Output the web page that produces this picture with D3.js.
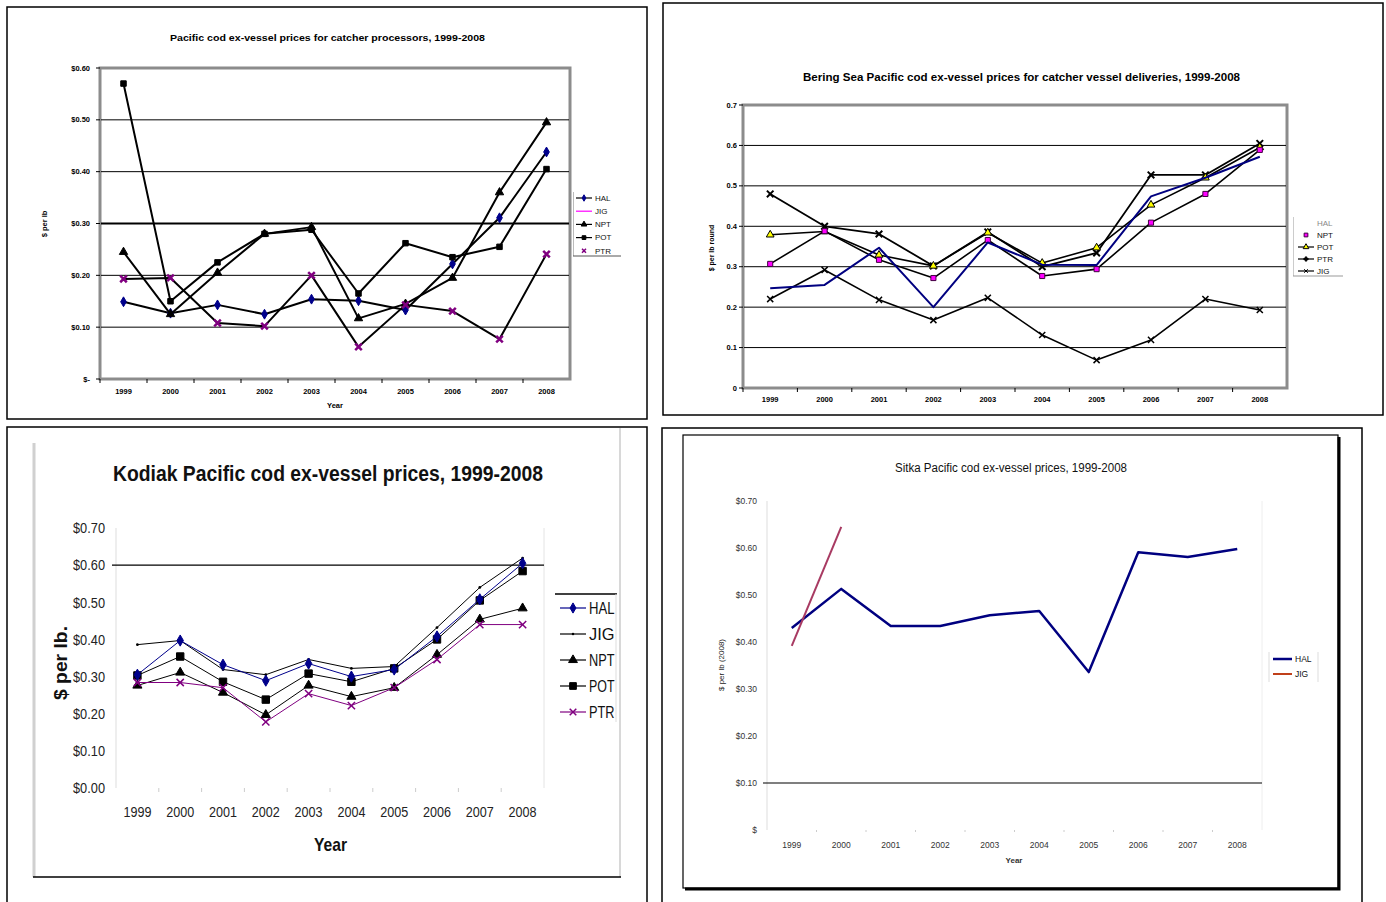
<!DOCTYPE html>
<html>
<head>
<meta charset="utf-8">
<script src="https://cdn.jsdelivr.net/npm/d3@7/dist/d3.min.js"></script>
<style>
body { margin: 0; background: #fff; }
svg { display: block; font-family: "Liberation Sans", Arial, sans-serif; }
</style>
</head>
<body>
<svg id="chart" width="1386" height="902"></svg>
<script>
// ---------------------------------------------------------------- data

var years = ['1999','2000','2001','2002','2003','2004','2005','2006','2007','2008'];

// catcher processors
var cpHAL = [0.149, 0.127, 0.143, 0.125, 0.154, 0.151, 0.133, 0.222, 0.311, 0.438];
var cpJIG = [null, null, null, null, null, null, null, null, null, null];
var cpNPT = [0.245, 0.125, 0.205, 0.280, 0.293, 0.117, 0.145, 0.195, 0.360, 0.495];
var cpPOT = [0.570, 0.150, 0.225, 0.280, 0.288, 0.165, 0.262, 0.235, 0.255, 0.405];
var cpPTR = [0.193, 0.195, 0.108, 0.102, 0.200, 0.062, 0.143, 0.131, 0.077, 0.241];
var cpTicks = ['$-', '$0.10', '$0.20', '$0.30', '$0.40', '$0.50', '$0.60'];

// Bering Sea catcher vessels
var bsHAL = [0.247, 0.255, 0.347, 0.200, 0.360, 0.305, 0.304, 0.474, 0.520, 0.572];
var bsNPT = [0.307, 0.388, 0.317, 0.272, 0.366, 0.277, 0.294, 0.409, 0.480, 0.589];
var bsPOT = [0.379, 0.387, 0.329, 0.302, 0.384, 0.309, 0.347, 0.453, 0.520, 0.595];
var bsPTR = [0.480, 0.400, 0.381, 0.302, 0.386, 0.300, 0.334, 0.527, 0.527, 0.605];
var bsJIG = [0.220, 0.292, 0.218, 0.168, 0.223, 0.131, 0.069, 0.119, 0.220, 0.193];
var bsTicks = ['0', '0.1', '0.2', '0.3', '0.4', '0.5', '0.6', '0.7'];

// Kodiak
var kdHAL = [0.305, 0.397, 0.332, 0.289, 0.335, 0.300, 0.319, 0.408, 0.508, 0.605];
var kdJIG = [0.386, 0.397, 0.319, 0.305, 0.346, 0.322, 0.327, 0.432, 0.540, 0.619];
var kdNPT = [0.276, 0.311, 0.257, 0.197, 0.276, 0.246, 0.270, 0.359, 0.454, 0.484];
var kdPOT = [0.303, 0.354, 0.286, 0.238, 0.308, 0.286, 0.322, 0.400, 0.505, 0.584];
var kdPTR = [0.284, 0.284, 0.270, 0.178, 0.254, 0.222, 0.270, 0.346, 0.440, 0.440];
var kdTicks = ['$0.00', '$0.10', '$0.20', '$0.30', '$0.40', '$0.50', '$0.60', '$0.70'];

// Sitka
var skHAL = [0.430, 0.513, 0.434, 0.434, 0.457, 0.466, 0.336, 0.591, 0.581, 0.598];
var skJIG = [0.392, 0.645, null, null, null, null, null, null, null, null];
var skTicks = ['$', '$0.10', '$0.20', '$0.30', '$0.40', '$0.50', '$0.60', '$0.70'];

// ---------------------------------------------------------------- helpers

var svg = d3.select('#chart');
svg.append('rect').attr('width', 1386).attr('height', 902).attr('fill', '#fff');

var symX = d3.symbolTimes || d3.symbolCross;

// squeeze a text to a width, stands in for Arial Narrow
function fit(sel, w)
{
	return sel.attr('textLength', w).attr('lengthAdjust', 'spacingAndGlyphs');
}

function scales(left, right, top, bottom, ymax)
{
	var band = d3.scaleBand().domain(years).range([left, right]);
	return {
		band: band,
		x: function (d) { return band(d) + band.bandwidth() / 2; },
		y: d3.scaleLinear().domain([0, ymax]).range([bottom, top])
	};
}

function marker(g, type, size, fill, stroke, sw)
{
	return g.append('path')
		.attr('d', d3.symbol().type(type).size(size)())
		.attr('fill', fill)
		.attr('stroke', stroke)
		.attr('stroke-width', sw || 1);
}

function series(g, s, values, st)
{
	var pts = values.map(function (v, i) { return {year: years[i], v: v}; });
	var line = d3.line()
		.defined(function (d) { return d.v != null; })
		.x(function (d) { return s.x(d.year); })
		.y(function (d) { return s.y(d.v); });

	if (st.line)
		g.append('path')
			.attr('d', line(pts))
			.attr('fill', 'none')
			.attr('stroke', st.line)
			.attr('stroke-width', st.width || 1.5)
			.attr('stroke-linejoin', 'round');

	if (st.sym)
		pts.filter(function (d) { return d.v != null; }).forEach(function (d) {
			marker(g, st.sym, st.size, st.fill, st.stroke, st.sw)
				.attr('transform', 'translate(' + s.x(d.year) + ',' + s.y(d.v) + ')');
		});
}

function legend(g, items, x, y0, dy, len, fs, squeeze)
{
	items.forEach(function (it, i) {
		var y = y0 + i * dy;
		if (it.line)
			g.append('line')
				.attr('x1', x).attr('x2', x + len)
				.attr('y1', y).attr('y2', y)
				.attr('stroke', it.line)
				.attr('stroke-width', it.lw || 1.2);
		if (it.sym)
			marker(g, it.sym, it.lsize, it.fill, it.stroke, it.sw)
				.attr('transform', 'translate(' + (x + len / 2) + ',' + y + ')');
		var t = g.append('text')
			.attr('x', x + len + 3).attr('y', y)
			.attr('dy', '0.35em')
			.attr('font-size', fs)
			.attr('fill', it.tcol || '#111')
			.text(it.name);
		if (squeeze)
			fit(t, it.name.length * squeeze);
	});
}

// ---------------------------------------------------------------- panel 1: catcher processors

(function () {
	var g = svg.append('g');
	var L = 100, R = 570, T = 68, B = 379;
	var s = scales(L, R, T, B, 0.6);

	g.append('rect').attr('x', 7).attr('y', 7).attr('width', 640).attr('height', 412)
		.attr('fill', 'none').attr('stroke', '#000').attr('stroke-width', 1.5);

	fit(g.append('text').attr('x', 170).attr('y', 41)
		.attr('font-size', 9.5).attr('font-weight', 'bold')
		.text('Pacific cod ex-vessel prices for catcher processors, 1999-2008'), 315);

	g.append('rect').attr('x', L).attr('y', T).attr('width', R - L).attr('height', B - T)
		.attr('fill', '#fff').attr('stroke', '#8c8c8c').attr('stroke-width', 3);

	d3.range(1, 6).forEach(function (i) {
		g.append('line').attr('x1', L + 1).attr('x2', R - 1)
			.attr('y1', s.y(i / 10)).attr('y2', s.y(i / 10))
			.attr('stroke', '#000').attr('stroke-width', i == 3 ? 2 : 1);
	});

	cpTicks.forEach(function (t, i) {
		g.append('line').attr('x1', L - 4).attr('x2', L).attr('y1', s.y(i / 10)).attr('y2', s.y(i / 10))
			.attr('stroke', '#000');
		g.append('text').attr('x', 90).attr('y', s.y(i / 10)).attr('dy', '0.35em')
			.attr('text-anchor', 'end').attr('font-size', 7.5).attr('font-weight', 'bold').text(t);
	});

	years.forEach(function (yr) {
		g.append('line').attr('x1', s.band(yr)).attr('x2', s.band(yr)).attr('y1', B).attr('y2', B + 4)
			.attr('stroke', '#000');
		g.append('text').attr('x', s.x(yr)).attr('y', 394).attr('text-anchor', 'middle')
			.attr('font-size', 7.5).attr('font-weight', 'bold').text(yr);
	});

	g.append('text').attr('x', 335).attr('y', 408).attr('text-anchor', 'middle')
		.attr('font-size', 7.5).attr('font-weight', 'bold').text('Year');
	g.append('text').attr('transform', 'translate(47,224) rotate(-90)').attr('text-anchor', 'middle')
		.attr('font-size', 7.5).attr('font-weight', 'bold').text('$ per lb');

	var st = {
		HAL: {line: '#000', width: 2, sym: d3.symbolDiamond, size: 28, fill: '#00008b', stroke: '#00008b'},
		JIG: {line: '#ff00ff', width: 1.5},
		NPT: {line: '#000', width: 2, sym: d3.symbolTriangle, size: 30, fill: '#000', stroke: '#000'},
		POT: {line: '#000', width: 2, sym: d3.symbolSquare, size: 30, fill: '#000', stroke: '#000'},
		PTR: {line: '#000', width: 2, sym: symX, size: 30, fill: 'none', stroke: '#800080', sw: 2.5}
	};
	series(g, s, cpHAL, st.HAL);
	series(g, s, cpJIG, st.JIG);
	series(g, s, cpNPT, st.NPT);
	series(g, s, cpPOT, st.POT);
	series(g, s, cpPTR, st.PTR);

	g.append('line').attr('x1', 573.5).attr('x2', 573.5).attr('y1', 192).attr('y2', 256).attr('stroke', '#bbb');
	g.append('line').attr('x1', 573).attr('x2', 621).attr('y1', 256).attr('y2', 256).attr('stroke', '#555');
	legend(g, [
		{name: 'HAL', line: '#000', sym: d3.symbolDiamond, lsize: 12, fill: '#00008b', stroke: '#00008b'},
		{name: 'JIG', line: '#ff00ff'},
		{name: 'NPT', line: '#000', sym: d3.symbolTriangle, lsize: 14, fill: '#000', stroke: '#000'},
		{name: 'POT', line: '#000', sym: d3.symbolSquare, lsize: 14, fill: '#000', stroke: '#000'},
		{name: 'PTR', sym: symX, lsize: 12, fill: 'none', stroke: '#800080', sw: 1.5}
	], 576, 198, 13.2, 16, 8);
})();

// ---------------------------------------------------------------- panel 2: Bering Sea

(function () {
	var g = svg.append('g');
	var L = 743, R = 1287, T = 105, B = 388;
	var s = scales(L, R, T, B, 0.7);

	g.append('rect').attr('x', 663).attr('y', 3).attr('width', 720).attr('height', 412)
		.attr('fill', 'none').attr('stroke', '#000').attr('stroke-width', 1.5);

	fit(g.append('text').attr('x', 803).attr('y', 81)
		.attr('font-size', 10).attr('font-weight', 'bold')
		.text('Bering Sea Pacific cod ex-vessel prices for catcher vessel deliveries, 1999-2008'), 437);

	g.append('rect').attr('x', L).attr('y', T).attr('width', R - L).attr('height', B - T)
		.attr('fill', '#fff').attr('stroke', '#8c8c8c').attr('stroke-width', 3);

	d3.range(1, 7).forEach(function (i) {
		g.append('line').attr('x1', L + 1).attr('x2', R - 1)
			.attr('y1', s.y(i / 10)).attr('y2', s.y(i / 10))
			.attr('stroke', '#000').attr('stroke-width', 1);
	});

	bsTicks.forEach(function (t, i) {
		g.append('line').attr('x1', L - 4).attr('x2', L).attr('y1', s.y(i / 10)).attr('y2', s.y(i / 10))
			.attr('stroke', '#000');
		g.append('text').attr('x', 737).attr('y', s.y(i / 10)).attr('dy', '0.35em')
			.attr('text-anchor', 'end').attr('font-size', 7.5).attr('font-weight', 'bold').text(t);
	});

	years.forEach(function (yr) {
		g.append('line').attr('x1', s.band(yr)).attr('x2', s.band(yr)).attr('y1', B).attr('y2', B + 4)
			.attr('stroke', '#000');
		g.append('text').attr('x', s.x(yr)).attr('y', 402).attr('text-anchor', 'middle')
			.attr('font-size', 7.5).attr('font-weight', 'bold').text(yr);
	});

	g.append('text').attr('transform', 'translate(714,248) rotate(-90)').attr('text-anchor', 'middle')
		.attr('font-size', 7).attr('font-weight', 'bold').text('$ per lb round');

	var st = {
		HAL: {line: '#000080', width: 2},
		NPT: {line: '#000', width: 1.6, sym: d3.symbolSquare, size: 26, fill: '#ff00ff', stroke: '#400040'},
		POT: {line: '#000', width: 1.6, sym: d3.symbolTriangle, size: 26, fill: '#ffff00', stroke: '#000'},
		PTR: {line: '#000', width: 1.8, sym: symX, size: 30, fill: 'none', stroke: '#000', sw: 2},
		JIG: {line: '#000', width: 1.6, sym: symX, size: 26, fill: 'none', stroke: '#000', sw: 1.5}
	};
	series(g, s, bsJIG, st.JIG);
	series(g, s, bsPTR, st.PTR);
	series(g, s, bsPOT, st.POT);
	series(g, s, bsNPT, st.NPT);
	series(g, s, bsHAL, st.HAL);

	g.append('line').attr('x1', 1293.5).attr('x2', 1293.5).attr('y1', 217).attr('y2', 276).attr('stroke', '#ccc');
	g.append('line').attr('x1', 1293).attr('x2', 1343).attr('y1', 276).attr('y2', 276).attr('stroke', '#999');
	legend(g, [
		{name: 'HAL', tcol: '#888'},
		{name: 'NPT', sym: d3.symbolSquare, lsize: 14, fill: '#ff00ff', stroke: '#400040'},
		{name: 'POT', line: '#000', sym: d3.symbolTriangle, lsize: 14, fill: '#ffff00', stroke: '#000'},
		{name: 'PTR', line: '#000', sym: d3.symbolCross, lsize: 10, fill: '#000', stroke: '#000'},
		{name: 'JIG', line: '#000', sym: symX, lsize: 10, fill: 'none', stroke: '#000'}
	], 1298, 223, 12, 16, 8);
})();

// ---------------------------------------------------------------- panel 3: Kodiak

(function () {
	var g = svg.append('g');
	var L = 116, R = 544, T = 528, B = 788;
	var s = scales(L, R, T, B, 0.7);

	g.append('rect').attr('x', 7).attr('y', 427).attr('width', 640).attr('height', 480)
		.attr('fill', 'none').attr('stroke', '#000').attr('stroke-width', 1.5);
	g.append('line').attr('x1', 34).attr('x2', 34).attr('y1', 443).attr('y2', 877)
		.attr('stroke', '#d0d0d0').attr('stroke-width', 3);
	g.append('line').attr('x1', 620).attr('x2', 620).attr('y1', 428).attr('y2', 877)
		.attr('stroke', '#d8d8d8').attr('stroke-width', 2);
	g.append('line').attr('x1', 33).attr('x2', 621).attr('y1', 877).attr('y2', 877)
		.attr('stroke', '#000').attr('stroke-width', 1.5);

	fit(g.append('text').attr('x', 113).attr('y', 481)
		.attr('font-size', 22).attr('font-weight', 'bold').attr('fill', '#111')
		.text('Kodiak Pacific cod ex-vessel prices, 1999-2008'), 430);

	g.append('line').attr('x1', L).attr('x2', L).attr('y1', T).attr('y2', B).attr('stroke', '#ddd');
	g.append('line').attr('x1', R).attr('x2', R).attr('y1', T).attr('y2', B).attr('stroke', '#e4e4e4');
	g.append('line').attr('x1', L - 4).attr('x2', R).attr('y1', s.y(0.6)).attr('y2', s.y(0.6))
		.attr('stroke', '#000').attr('stroke-width', 1.3);

	kdTicks.forEach(function (t, i) {
		fit(g.append('text').attr('x', 73).attr('y', s.y(i / 10)).attr('dy', '0.35em')
			.attr('font-size', 15).attr('fill', '#222').text(t), 32);
	});

	years.forEach(function (yr, i) {
		if (i > 0)
			g.append('line').attr('x1', s.band(yr)).attr('x2', s.band(yr)).attr('y1', B).attr('y2', B + 4)
				.attr('stroke', '#ccc');
		fit(g.append('text').attr('x', s.x(yr) - 14).attr('y', 817)
			.attr('font-size', 15).attr('fill', '#222').text(yr), 28);
	});

	fit(g.append('text').attr('x', 314).attr('y', 851)
		.attr('font-size', 19).attr('font-weight', 'bold').attr('fill', '#111').text('Year'), 33);
	fit(g.append('text').attr('transform', 'translate(67,700) rotate(-90)')
		.attr('font-size', 18).attr('font-weight', 'bold')
		.attr('fill', '#111').text('$ per lb.'), 74);

	var st = {
		HAL: {line: '#00008b', width: 1, sym: d3.symbolDiamond, size: 36, fill: '#00008b', stroke: '#00008b'},
		JIG: {line: '#000', width: 1, sym: d3.symbolCircle, size: 6, fill: '#000', stroke: 'none'},
		NPT: {line: '#000', width: 1, sym: d3.symbolTriangle, size: 36, fill: '#000', stroke: '#000'},
		POT: {line: '#000', width: 1, sym: d3.symbolSquare, size: 55, fill: '#000', stroke: '#000'},
		PTR: {line: '#800080', width: 1, sym: symX, size: 36, fill: 'none', stroke: '#800080', sw: 1.5}
	};
	series(g, s, kdJIG, st.JIG);
	series(g, s, kdNPT, st.NPT);
	series(g, s, kdPOT, st.POT);
	series(g, s, kdPTR, st.PTR);
	series(g, s, kdHAL, st.HAL);

	g.append('line').attr('x1', 555).attr('x2', 617).attr('y1', 594).attr('y2', 594)
		.attr('stroke', '#000').attr('stroke-width', 1.3);
	g.append('line').attr('x1', 616).attr('x2', 616).attr('y1', 594).attr('y2', 722).attr('stroke', '#ddd');
	legend(g, [
		{name: 'HAL', line: '#00008b', sym: d3.symbolDiamond, lsize: 30, fill: '#00008b', stroke: '#00008b'},
		{name: 'JIG', line: '#000', sym: d3.symbolCircle, lsize: 5, fill: '#000', stroke: 'none'},
		{name: 'NPT', line: '#000', sym: d3.symbolTriangle, lsize: 34, fill: '#000', stroke: '#000'},
		{name: 'POT', line: '#000', sym: d3.symbolSquare, lsize: 45, fill: '#000', stroke: '#000'},
		{name: 'PTR', line: '#800080', sym: symX, lsize: 30, fill: 'none', stroke: '#800080', sw: 1.5}
	], 560, 608, 26, 26, 16, 8.5);
})();

// ---------------------------------------------------------------- panel 4: Sitka

(function () {
	var g = svg.append('g');
	var L = 767, R = 1262, T = 501, B = 830;
	var s = scales(L, R, T, B, 0.7);

	g.append('path').attr('d', 'M662,905V428H1362V905')
		.attr('fill', 'none').attr('stroke', '#000').attr('stroke-width', 1.5);
	g.append('rect').attr('x', 683).attr('y', 435).attr('width', 655).attr('height', 453)
		.attr('fill', 'none').attr('stroke', '#000').attr('stroke-width', 1.2);
	g.append('path').attr('d', 'M1339,437V889H685')
		.attr('fill', 'none').attr('stroke', '#000').attr('stroke-width', 3);

	fit(g.append('text').attr('x', 895).attr('y', 472)
		.attr('font-size', 12).attr('fill', '#111')
		.text('Sitka Pacific cod ex-vessel prices, 1999-2008'), 232);

	g.append('line').attr('x1', L).attr('x2', L).attr('y1', T).attr('y2', B).attr('stroke', '#ddd');
	g.append('line').attr('x1', R).attr('x2', R).attr('y1', T).attr('y2', B).attr('stroke', '#eee');
	g.append('line').attr('x1', L - 4).attr('x2', R).attr('y1', s.y(0.1)).attr('y2', s.y(0.1))
		.attr('stroke', '#000').attr('stroke-width', 1.2);

	skTicks.forEach(function (t, i) {
		g.append('text').attr('x', 757).attr('y', s.y(i / 10)).attr('dy', '0.35em')
			.attr('text-anchor', 'end').attr('font-size', 8.5).attr('fill', '#333').text(t);
	});

	years.forEach(function (yr, i) {
		if (i > 0)
			g.append('line').attr('x1', s.band(yr)).attr('x2', s.band(yr)).attr('y1', B).attr('y2', B + 2)
				.attr('stroke', '#ccc');
		g.append('text').attr('x', s.x(yr)).attr('y', 848).attr('text-anchor', 'middle')
			.attr('font-size', 8.5).attr('fill', '#333').text(yr);
	});

	g.append('text').attr('x', 1014).attr('y', 863).attr('text-anchor', 'middle')
		.attr('font-size', 8).attr('font-weight', 'bold').attr('fill', '#333').text('Year');
	g.append('text').attr('transform', 'translate(724,665) rotate(-90)')
		.attr('text-anchor', 'middle').attr('font-size', 8).attr('fill', '#222').text('$ per lb (2008)');

	series(g, s, skHAL, {line: '#000080', width: 2.5});
	series(g, s, skJIG, {line: '#a83a62', width: 2});

	g.append('line').attr('x1', 1269).attr('x2', 1269).attr('y1', 652).attr('y2', 682).attr('stroke', '#ddd');
	g.append('line').attr('x1', 1318).attr('x2', 1318).attr('y1', 652).attr('y2', 682).attr('stroke', '#ddd');
	legend(g, [
		{name: 'HAL', line: '#000080', lw: 2.5},
		{name: 'JIG', line: '#c0401a', lw: 2}
	], 1273, 659, 15, 19, 8.5);
})();
</script>
</body>
</html>
